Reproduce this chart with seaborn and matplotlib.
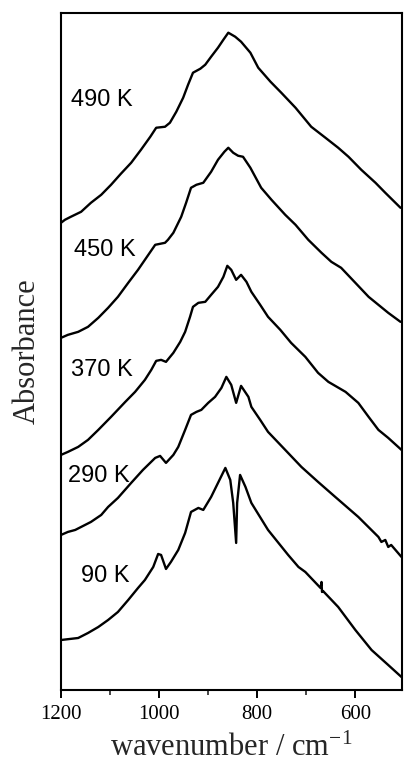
import numpy as np
import pandas as pd
import matplotlib
matplotlib.use("Agg")
import matplotlib.pyplot as plt
import seaborn as sns

# ---- data (wavenumber in cm^-1, absorbance in arbitrary stacked units) ----
wn_490 = [1200, 1192, 1180, 1159, 1139, 1118, 1098, 1078, 1057, 1037, 1018, 1006, 988, 978, 965, 951, 941, 931,
          916, 906, 894, 880, 869, 859, 845, 833, 814, 798, 773, 751, 722, 690, 661, 635, 614, 588, 559, 539, 508]
ab_490 = [4.67, 4.70, 4.73, 4.78, 4.87, 4.95, 5.05, 5.16, 5.27, 5.40, 5.53, 5.62, 5.63, 5.67, 5.78, 5.92, 6.05, 6.17,
          6.21, 6.25, 6.33, 6.42, 6.50, 6.57, 6.53, 6.48, 6.37, 6.22, 6.08, 5.97, 5.82, 5.63, 5.52, 5.42, 5.33, 5.20,
          5.07, 4.97, 4.82]

wn_450 = [1200, 1186, 1165, 1145, 1124, 1104, 1084, 1063, 1043, 1022, 1008, 988, 982, 971, 955, 945, 935, 924, 910,
          894, 880, 867, 859, 849, 839, 829, 814, 792, 771, 743, 722, 696, 669, 649, 629, 600, 573, 553, 533, 508]
ab_450 = [3.52, 3.55, 3.58, 3.63, 3.72, 3.82, 3.93, 4.07, 4.20, 4.35, 4.45, 4.47, 4.50, 4.57, 4.73, 4.87, 5.02, 5.05,
          5.07, 5.18, 5.30, 5.38, 5.42, 5.37, 5.34, 5.33, 5.22, 5.02, 4.90, 4.75, 4.65, 4.50, 4.37, 4.28, 4.22, 4.07,
          3.93, 3.85, 3.77, 3.68]

wn_370 = [1200, 1186, 1165, 1145, 1124, 1098, 1069, 1049, 1029, 1016, 1006, 996, 986, 971, 957, 947, 937, 931, 920,
          906, 894, 880, 869, 861, 853, 843, 833, 822, 812, 794, 778, 753, 731, 702, 676, 655, 620, 594, 573, 553,
          533, 506]
ab_370 = [2.35, 2.38, 2.43, 2.50, 2.60, 2.73, 2.88, 2.98, 3.10, 3.20, 3.29, 3.30, 3.28, 3.37, 3.48, 3.58, 3.73, 3.83,
          3.87, 3.88, 3.95, 4.03, 4.13, 4.24, 4.20, 4.10, 4.15, 4.08, 3.98, 3.85, 3.73, 3.60, 3.47, 3.33, 3.17, 3.08,
          2.98, 2.87, 2.73, 2.60, 2.52, 2.40]

wn_290 = [1200, 1186, 1171, 1139, 1118, 1104, 1084, 1057, 1033, 1008, 998, 986, 971, 961, 947, 935, 924, 914, 900,
          886, 873, 863, 853, 843, 833, 818, 812, 794, 778, 743, 710, 676, 641, 594, 553, 547, 539, 533, 527, 506]
ab_290 = [1.55, 1.58, 1.60, 1.68, 1.75, 1.83, 1.92, 2.07, 2.20, 2.32, 2.34, 2.27, 2.35, 2.43, 2.60, 2.75, 2.78, 2.80,
          2.87, 2.93, 3.02, 3.13, 3.05, 2.87, 3.04, 2.93, 2.83, 2.70, 2.58, 2.40, 2.23, 2.08, 1.93, 1.73, 1.53, 1.48,
          1.50, 1.43, 1.45, 1.33]

wn_90 = [1200, 1165, 1145, 1124, 1104, 1084, 1063, 1043, 1029, 1012, 1002, 996, 986, 976, 961, 947, 935, 920, 910,
         894, 880, 865, 855, 849, 843, 841, 835, 824, 812, 778, 737, 716, 702, 671, 669, 668, 666, 635, 600, 567,
         533, 506]
ab_90 = [0.50, 0.52, 0.57, 0.63, 0.70, 0.78, 0.90, 1.02, 1.10, 1.23, 1.36, 1.35, 1.21, 1.28, 1.40, 1.57, 1.78, 1.82,
         1.80, 1.93, 2.07, 2.22, 2.10, 1.87, 1.47, 1.87, 2.15, 2.03, 1.87, 1.60, 1.35, 1.23, 1.18, 1.02, 1.08, 0.98,
         0.99, 0.83, 0.60, 0.40, 0.25, 0.13]

labels = ["490 K", "450 K", "370 K", "290 K", "90 K"]
label_wn = [1180, 1173, 1180, 1186, 1159]
label_ab = [5.90, 4.40, 3.20, 2.14, 1.14]

xticks_major = [1200, 1000, 800, 600]
xticks_minor = [1100, 900, 700]

curves = [(wn_490, ab_490), (wn_450, ab_450), (wn_370, ab_370), (wn_290, ab_290), (wn_90, ab_90)]
frames = []
for lab, (w, a) in zip(labels, curves):
    frames.append(pd.DataFrame({"wavenumber": w, "absorbance": a, "T": lab}))
df = pd.concat(frames, ignore_index=True)

# ---- style ----
sns.set_style("ticks")
plt.rcParams["font.family"] = ["Liberation Serif", "DejaVu Serif"]
plt.rcParams["mathtext.fontset"] = "stix"

fig = plt.figure(figsize=(4.04, 7.69), dpi=100)
ax = fig.add_axes([0.151, 0.1027, 0.844, 0.8808])

for lab in labels:
    sub = df[df["T"] == lab]
    sns.lineplot(data=sub, x="wavenumber", y="absorbance", ax=ax, color="black",
                 linewidth=1.7, estimator=None, sort=False, legend=False)

for lab, x, y in zip(labels, label_wn, label_ab):
    ax.text(x, y, lab, ha="left", va="center", fontsize=17,
            family=["Liberation Sans", "DejaVu Sans"], color="black")

ax.set_xlim(1200, 505)
ax.set_ylim(0, 6.77)
ax.set_xticks(xticks_major)
ax.set_xticks(xticks_minor, minor=True)
ax.set_yticks([])
ax.tick_params(axis="x", which="major", direction="out", length=6, width=1.4,
               labelsize=15, pad=5, colors="black")
ax.tick_params(axis="x", which="minor", direction="out", length=3.5, width=1.2)
for s in ax.spines.values():
    s.set_visible(True)
    s.set_linewidth(1.5)
    s.set_color("black")

ax.set_xlabel("wavenumber / cm$^{\\mathregular{-1}}$", fontsize=22, labelpad=6)
ax.set_ylabel("Absorbance", fontsize=22, labelpad=14)

fig.savefig("out.png", dpi=100)
